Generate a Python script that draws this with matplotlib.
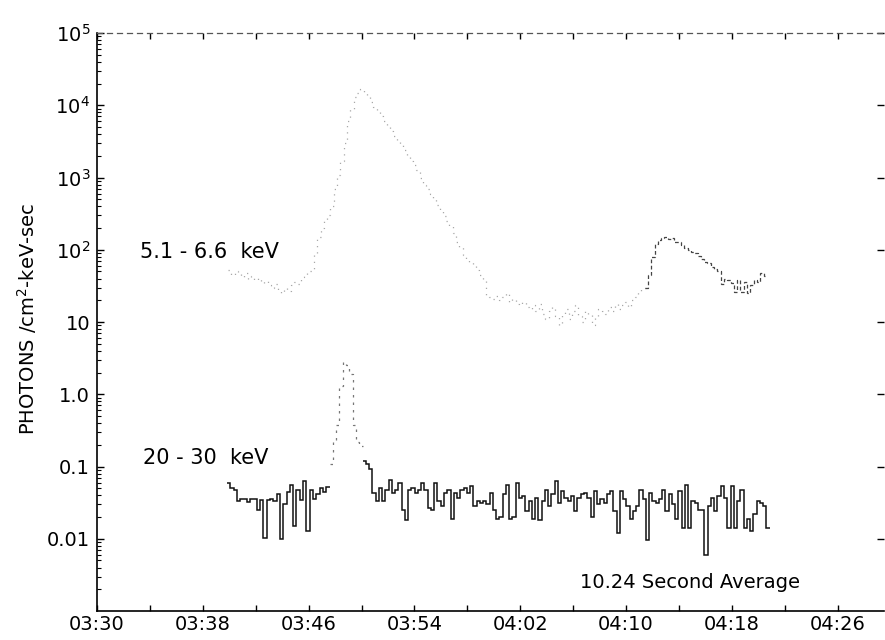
import numpy as np
import matplotlib
matplotlib.use('Agg')
import matplotlib.pyplot as plt
from matplotlib.ticker import FixedLocator, NullFormatter, LogLocator

# ---------------- data (x in minutes after 03:30 UT) ----------------
# 5.1-6.6 keV flux
lo_start, lo_end = 9.9, 50.65
lo_vals = [
    # 03:40 - 03:46 pre-flare
    52, 45, 50, 47, 42, 48, 40, 44, 38, 41, 35, 37, 33, 30, 34, 28, 25, 30, 27, 33,
    36, 34, 42, 45, 50,
    # rise / peak / decay
    50, 90, 150, 200, 250, 300, 400, 700, 1100, 1700,
    3000, 6000, 9000, 13000, 15000, 17000, 15000, 13000, 11000, 9500,
    8500, 7000, 6000, 5000, 4400, 3800, 3200, 2800, 2400, 2000,
    1700, 1500, 1250, 1000, 800, 700, 600, 500, 420, 350,
    290, 250, 210, 170, 130, 110, 85, 75, 68, 62,
    52, 45, 40,
    # floor
    24, 22, 21, 23, 20, 22, 25, 19, 21, 18, 17, 19, 16, 15, 17, 14, 18, 13, 11, 14,
    16, 12, 9, 13, 15, 11, 14, 17, 12, 10, 14, 13, 9, 12, 15, 14, 13, 16, 14, 18,
    15, 17, 19, 16, 20, 22, 26, 30,
    # second hump
    30, 45, 80, 120, 135, 145, 150, 140, 145, 130, 128, 117, 105, 100, 92, 90, 82,
    75, 68, 65, 58, 55, 50, 34, 40, 38, 35, 26, 38, 26, 36, 25, 33, 38, 36, 47, 43,
]
lo_hump_index = 126

# 20-30 keV flux
hi_pre_start, hi_pre_end = 9.83, 17.58
hi_pre = [0.06, 0.05, 0.048, 0.033, 0.035, 0.036, 0.032, 0.036, 0.035, 0.025,
          0.034, 0.0103, 0.034, 0.036, 0.033, 0.042, 0.010, 0.030, 0.045, 0.056,
          0.015, 0.048, 0.034, 0.062, 0.013, 0.048, 0.035, 0.042, 0.050, 0.045,
          0.052]
hi_peak_start, hi_peak_end = 17.58, 20.08
hi_peak = [0.11, 0.22, 0.38, 1.3, 2.8, 2.5, 1.9, 0.38, 0.22, 0.19]
hi_post_start, hi_post_end = 20.08, 50.85
hi_post = [
    0.118, 0.107, 0.091, 0.043, 0.033, 0.050, 0.033, 0.048, 0.066, 0.043,
    0.048, 0.059, 0.025, 0.018, 0.048, 0.050, 0.043, 0.048, 0.059, 0.048,
    0.027, 0.025, 0.059, 0.033, 0.028, 0.043, 0.048, 0.019, 0.043, 0.037,
    0.048, 0.050, 0.043, 0.053, 0.028, 0.033, 0.031, 0.033, 0.030, 0.043,
    0.025, 0.019,
    0.020, 0.041, 0.056, 0.019, 0.020, 0.059, 0.037, 0.039, 0.024, 0.033,
    0.019, 0.037, 0.018, 0.033, 0.048, 0.028, 0.041, 0.062, 0.031, 0.046,
    0.037, 0.033, 0.039, 0.024, 0.037, 0.041, 0.043, 0.037, 0.020, 0.046,
    0.030, 0.035, 0.031, 0.041, 0.046, 0.024, 0.012, 0.046, 0.035, 0.028,
    0.019, 0.024, 0.028,
    0.048, 0.035, 0.0097, 0.043, 0.033, 0.031, 0.035, 0.048, 0.024, 0.041,
    0.030, 0.019, 0.046, 0.014, 0.056, 0.014, 0.033, 0.031, 0.025, 0.025,
    0.006, 0.028, 0.037, 0.024, 0.039, 0.053, 0.037, 0.014, 0.053, 0.014,
    0.033, 0.048, 0.014, 0.019, 0.013, 0.022, 0.033, 0.031, 0.028, 0.014,
]

xticks = [0, 8, 16, 24, 32, 40, 48, 56]
xtick_labels = ['03:30', '03:38', '03:46', '03:54', '04:02', '04:10', '04:18', '04:26']
xminor = [4, 12, 20, 28, 36, 44, 52]
yticks = [1e-2, 1e-1, 1, 10, 1e2, 1e3, 1e4, 1e5]
ytick_labels = ['0.01', '0.1', '1.0', '10', r'$10^2$', r'$10^3$', r'$10^4$', r'$10^5$']

# ---------------- figure ----------------
plt.rcParams['font.family'] = ['DejaVu Sans']
plt.rcParams['mathtext.fontset'] = 'dejavusans'
fig = plt.figure(figsize=(8.85, 6.4), dpi=100)
ax = fig.add_axes([97/885, 1 - 611/640, 787/885, 578/640])
ax.set_yscale('log')
ax.set_xlim(0, 59.5)
ax.set_ylim(1e-3, 1e5)

lo_edges = np.linspace(lo_start, lo_end, len(lo_vals) + 1)
ax.stairs(lo_vals[:lo_hump_index + 1], lo_edges[:lo_hump_index + 2],
          color='#a8a8a8', lw=0.9, linestyle=(0, (1, 4)), baseline=None)
ax.stairs(lo_vals[lo_hump_index:], lo_edges[lo_hump_index:],
          color='#444444', lw=0.9, linestyle=(0, (3, 2)), baseline=None)

ax.stairs(hi_pre, np.linspace(hi_pre_start, hi_pre_end, len(hi_pre) + 1),
          color='#111111', lw=1.1, baseline=None)
ax.stairs(hi_peak, np.linspace(hi_peak_start, hi_peak_end, len(hi_peak) + 1),
          color='#777777', lw=0.9, linestyle=(0, (2, 4)), baseline=None)
ax.stairs(hi_post, np.linspace(hi_post_start, hi_post_end, len(hi_post) + 1),
          color='#111111', lw=1.1, baseline=None)

# axes styling
ax.spines['right'].set_visible(False)
ax.spines['top'].set_linestyle((0, (4, 4)))
ax.spines['top'].set_color('#555555')
ax.spines['top'].set_linewidth(0.9)
ax.spines['left'].set_linewidth(1.2)
ax.spines['bottom'].set_linewidth(1.2)

ax.xaxis.set_major_locator(FixedLocator(xticks))
ax.set_xticklabels(xtick_labels, fontsize=14)
ax.xaxis.set_minor_locator(FixedLocator(xminor))
ax.yaxis.set_major_locator(FixedLocator(yticks))
ax.set_yticklabels(ytick_labels, fontsize=14)
ax.yaxis.set_minor_locator(LogLocator(base=10, subs=np.arange(2, 10)))
ax.yaxis.set_minor_formatter(NullFormatter())

ax.tick_params(axis='x', which='both', direction='in', length=4, width=1,
               top=True, pad=3)
ax.tick_params(axis='y', which='major', direction='in', length=5, width=1,
               right=True, pad=5)
ax.tick_params(axis='y', which='minor', direction='in', length=3, width=0.8,
               right=False)

fig.text(0.031, 1 - 319/640, 'PHOTONS /cm$^2$-keV-sec', rotation=90,
         ha='center', va='center', fontsize=14)

ax.text(3.25, 93, '5.1 - 6.6  keV', fontsize=15, ha='left', va='center')
ax.text(3.48, 0.13, '20 - 30  keV', fontsize=15, ha='left', va='center')
ax.text(36.5, 0.0025, '10.24 Second Average', fontsize=14, ha='left', va='center')

fig.savefig('out.png', dpi=100)
